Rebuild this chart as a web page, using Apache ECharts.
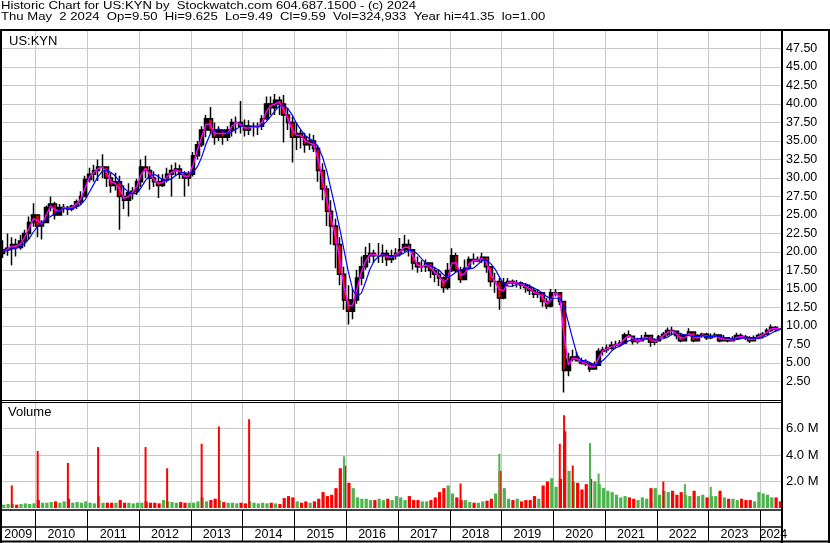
<!DOCTYPE html>
<html>
<head>
<meta charset="utf-8">
<script src="https://cdn.jsdelivr.net/npm/echarts@6/dist/echarts.min.js"></script>
<style>
html, body { margin: 0; padding: 0; background: #fff; }
#chart { width: 830px; height: 543px; }
</style>
</head>
<body>
<div id="chart"></div>
<script>
// monthly bars, May 2009 .. May 2024
var firstYear = 2009, firstMon = 5, monthCount = 181;
var months = [];
for (var i = 0; i < monthCount; i++) {
  var m = firstMon - 1 + i;
  months.push((firstYear + Math.floor(m / 12)) + '-' + String(m % 12 + 1).padStart(2, '0'));
}

var firstOpen = 19.8;
var closes = [
  20.3,20.5,21.0,20.6,21.5,22.5,24.0,25.0,
  23.5,24.0,26.0,26.5,25.0,26.0,26.0,25.8,26.2,26.8,27.5,29.8,
  30.5,31.0,31.5,31.5,30.0,29.0,29.5,27.5,27.0,28.0,28.2,29.5,
  31.5,31.0,30.0,29.5,29.0,29.8,30.5,31.0,31.2,30.5,30.0,30.5,
  33.0,34.5,36.5,38.0,36.5,35.5,36.5,35.5,36.5,37.5,37.5,37.0,
  36.5,37.0,37.0,37.0,38.0,40.0,39.5,40.5,40.0,38.5,37.5,35.5,
  36.0,35.5,34.5,35.0,34.0,31.0,28.5,25.5,23.5,21.0,17.0,13.5,
  12.0,13.5,16.5,18.0,19.5,19.8,19.5,19.5,19.8,19.0,19.5,19.8,
  20.3,21.0,20.3,18.5,18.0,18.0,18.5,17.5,17.0,16.5,15.2,17.5,
  19.5,17.5,16.3,17.8,19.0,18.8,19.0,19.3,18.0,16.0,16.0,13.8,
  15.8,16.0,15.8,15.8,15.5,15.2,14.8,14.3,14.5,13.3,12.7,14.5,
  14.5,13.3,4.0,5.5,5.8,5.3,5.0,4.9,4.2,4.7,6.6,6.8,
  7.0,7.4,7.5,7.7,8.8,8.6,7.9,8.0,8.3,8.7,7.8,8.0,
  8.5,8.9,9.4,9.3,8.7,8.0,8.8,9.2,8.0,8.7,8.9,8.4,
  8.6,8.8,8.0,8.4,8.0,8.2,8.7,8.5,8.4,8.0,8.4,8.7,
  8.9,9.4,9.8,9.6,9.59
];
var highs = [
  21.6,22.5,22.0,21.8,22.3,23.0,24.8,26.6,
  25.0,24.3,26.3,27.5,26.8,26.5,26.5,26.2,26.4,27.1,28.2,30.3,
  31.4,31.8,32.5,33.2,31.6,30.7,30.7,30.3,29.0,29.3,28.8,29.9,
  32.5,33.0,31.6,30.9,30.5,30.5,31.4,31.8,32.1,31.8,30.9,30.9,
  33.5,35.0,37.0,38.5,39.6,37.5,37.0,36.5,37.0,38.0,38.3,40.4,
  37.9,37.8,37.5,37.5,38.5,41.0,41.0,41.35,41.0,41.2,39.5,38.3,
  37.5,36.5,36.1,36.0,35.8,34.5,32.0,29.0,27.0,24.5,22.0,18.0,
  15.5,15.0,17.6,19.4,20.7,21.2,20.3,21.2,21.0,20.3,20.3,20.5,
  21.9,22.3,21.7,20.3,19.4,18.9,19.0,18.5,18.0,17.6,16.7,18.5,
  20.5,19.9,18.0,19.0,19.4,19.8,19.4,19.9,19.4,18.1,17.2,16.5,
  16.5,16.5,16.3,16.2,16.0,15.8,15.6,15.2,15.0,14.6,13.8,15.0,
  15.0,14.5,13.3,6.4,6.8,6.5,5.7,5.5,5.0,5.2,7.0,7.2,
  7.5,7.9,8.0,8.1,9.1,9.4,8.6,8.4,8.8,9.2,8.8,8.3,
  8.8,9.2,9.8,9.9,9.3,9.1,8.9,9.7,9.3,8.9,9.1,9.1,
  9.0,9.1,8.8,8.8,8.5,8.6,9.1,9.0,8.8,8.6,8.7,9.0,
  9.2,9.7,10.2,10.0,9.625
];
var lows = [
  19.2,19.5,18.2,19.4,20.3,20.7,21.7,23.4,
  22.0,21.7,24.0,25.5,24.4,24.9,25.3,25.0,25.5,25.8,26.4,27.5,
  29.4,29.5,29.6,30.0,28.8,28.0,28.3,23.0,25.8,24.8,27.1,27.7,
  28.8,30.0,28.4,28.8,27.3,28.8,29.4,27.5,30.3,29.9,27.5,28.9,
  30.2,32.5,34.2,35.5,36.0,34.5,35.0,34.5,35.0,35.6,36.0,36.0,
  35.6,35.8,35.6,35.8,36.5,37.8,38.5,38.5,38.5,34.8,36.5,32.1,
  33.8,34.0,33.4,33.8,33.5,29.5,27.0,23.5,21.0,17.8,15.5,12.2,
  10.2,10.9,13.0,15.5,17.6,18.5,18.5,18.5,18.5,18.1,18.5,19.0,
  19.4,20.0,19.4,17.6,17.2,17.3,17.3,16.5,15.9,15.4,14.5,14.9,
  17.3,17.2,15.8,16.2,17.6,18.3,18.6,18.5,17.2,15.3,14.5,12.2,
  13.6,15.4,15.3,15.2,15.0,14.5,14.2,13.8,13.8,12.6,12.3,12.5,
  14.0,12.8,1.0,3.2,5.2,5.2,4.8,4.6,3.8,4.2,4.7,6.0,
  6.4,6.8,7.0,7.2,7.6,8.4,7.5,7.6,7.9,8.2,7.2,7.4,
  7.9,8.4,8.6,8.8,8.2,7.8,7.9,8.8,7.8,7.9,8.4,8.1,
  8.2,8.4,7.8,8.0,7.8,7.9,8.2,8.2,8.1,7.7,7.9,8.2,
  8.3,8.8,9.2,9.2,9.49
];
// volume in millions
var volumes = [
  0.25,0.3,0.3,0.25,0.3,0.35,0.3,0.35,
  0.6,0.4,0.4,0.45,0.5,0.4,0.5,0.7,0.4,0.45,0.4,0.5,
  0.4,0.35,0.9,0.4,0.4,0.4,0.4,0.6,0.4,0.4,0.35,0.4,
  0.4,0.5,0.4,0.4,0.35,0.6,0.5,0.45,0.4,0.45,0.4,0.4,
  0.4,0.5,0.8,0.5,0.6,0.7,0.6,0.45,0.4,0.4,0.35,0.4,
  0.35,0.5,0.4,0.35,0.4,0.35,0.4,0.35,0.3,0.75,0.9,0.8,
  0.5,0.4,0.5,0.4,0.5,0.7,1.2,0.9,1.0,1.5,3.0,3.2,
  1.9,1.5,0.8,0.7,0.7,0.6,0.6,0.7,0.6,0.7,0.6,0.9,
  0.8,0.6,0.9,0.6,0.6,0.5,0.5,0.6,0.8,1.2,1.5,1.7,
  1.1,0.8,0.6,0.6,0.45,0.4,0.4,0.5,0.55,0.7,1.1,2.8,
  1.5,0.7,0.6,0.7,0.5,0.6,0.6,0.9,0.7,1.7,2.0,2.25,
  1.6,2.2,5.8,2.8,2.0,1.9,1.4,1.8,2.2,2.0,1.8,1.5,
  1.3,1.2,1.0,0.8,0.9,0.8,0.7,0.6,0.8,0.7,1.5,1.5,
  1.0,1.3,1.2,1.3,1.0,1.2,1.0,0.9,1.3,0.9,1.0,0.8,
  0.9,0.9,1.3,0.8,0.7,0.7,0.6,0.7,0.6,0.6,0.5,1.2,
  1.1,1.0,0.8,0.8,0.5
];
// single heavy days
var spikeMonths = ['2009-07','2010-01','2010-08','2011-03','2012-02','2012-07','2013-03','2013-07','2014-02','2015-12',
                   '2018-03','2018-12','2020-02','2020-03','2020-05','2020-09','2020-11','2022-02','2022-07','2023-01'];
var spikeVols   = [1.7,4.3,3.4,4.6,4.6,3.0,4.85,6.15,6.7,3.9, 1.85,4.1,4.85,7.0,3.2,4.9,2.6,2.0,1.8,1.6];
var spikeUp     = [0,0,0,0,0,0,0,0,0,1, 0,1,0,0,0,1,1,0,1,1];

var yearLabelMonths = ['2009-08','2010-06','2011-06','2012-06','2013-06','2014-06','2015-06','2016-06',
                       '2017-06','2018-06','2019-06','2020-06','2021-06','2022-06','2023-06','2024-03'];
var volTicks = [2, 4, 6];

var header1 = 'Historic Chart for US:KYN by  Stockwatch.com 604.687.1500 - (c) 2024';
var header2 = 'Thu May  2 2024  Op=9.50  Hi=9.625  Lo=9.49  Cl=9.59  Vol=324,933  Year hi=41.35  lo=1.00';

var GREEN = '#4cb44c', RED = '#ff0000', GRID = '#c8c8c8';
var FONT = 'Liberation Sans, Arial, sans-serif';

var opens = closes.map(function (c, i) { return i ? closes[i - 1] : firstOpen; });
var candles = closes.map(function (c, i) { return [opens[i], c, lows[i], highs[i]]; });
var mids = closes.map(function (c, i) { return +((opens[i] + c) / 2).toFixed(3); });
function sma(arr, n) {
  return arr.map(function (v, i) {
    var s = 0, c = 0;
    for (var j = Math.max(0, i - n + 1); j <= i; j++) { s += arr[j]; c++; }
    return +(s / c).toFixed(3);
  });
}
var slowMa = sma(mids, 4);

var volData = volumes.map(function (v, i) {
  return { value: v, itemStyle: { color: closes[i] >= opens[i] ? GREEN : RED } };
});
var spikeData = months.map(function (m) {
  var j = spikeMonths.indexOf(m);
  return j < 0 ? '-' : { value: spikeVols[j], itemStyle: { color: spikeUp[j] ? GREEN : RED } };
});

var janLine = function (index, value) { return value.slice(5) === '01'; };

function monthAxis(gridIndex, lineColor) {
  return {
    type: 'category', gridIndex: gridIndex, data: months, boundaryGap: true,
    axisLine: { show: false }, axisTick: { show: false }, axisLabel: { show: false },
    splitLine: { show: true, interval: janLine, lineStyle: { color: lineColor, width: 1 } }
  };
}
var xVol = monthAxis(1, GRID);
xVol.axisLabel = {
  show: true, margin: 20, color: '#000', fontSize: 12.5, fontFamily: FONT,
  padding: [0, 0, 0, 4.3],
  interval: function (index, value) { return yearLabelMonths.indexOf(value) >= 0; },
  formatter: function (value) { return value.slice(0, 4); }
};

function hline(y, x1, x2, w) {
  return { type: 'line', z: 100, silent: true, shape: { x1: x1, y1: y, x2: x2, y2: y }, style: { stroke: '#000', lineWidth: w } };
}
function vline(x, y1, y2, w) {
  return { type: 'line', z: 100, silent: true, shape: { x1: x, y1: y1, x2: x, y2: y2 }, style: { stroke: '#000', lineWidth: w } };
}
function label(text, x, y, size, sx) {
  return { type: 'text', x: x, y: y, scaleX: sx, scaleY: 1, originX: 0, originY: 0, z: 100, silent: true,
    style: { text: text, fontSize: size, fontFamily: FONT, fill: '#000', verticalAlign: 'top' } };
}

var chart = echarts.init(document.getElementById('chart'), null, { renderer: 'canvas' });
chart.setOption({
  animation: false,
  backgroundColor: '#fff',
  grid: [
    { left: 1, top: 30, width: 781, height: 370, outerBoundsMode: 'none' },
    { left: 1, top: 402, width: 781, height: 106, outerBoundsMode: 'none' },
    { left: 1, top: 510, width: 781, height: 31, outerBoundsMode: 'none' }
  ],
  xAxis: [monthAxis(0, GRID), xVol, monthAxis(2, '#000')],
  yAxis: [
    {
      type: 'value', gridIndex: 0, position: 'right', min: 0, max: 50, interval: 2.5,
      axisLine: { show: false }, axisTick: { show: false },
      axisLabel: { margin: 4, color: '#000', fontSize: 12.5, fontFamily: FONT,
        formatter: function (v) { return (v > 0 && v < 50) ? v.toFixed(2) : ''; } },
      splitLine: { lineStyle: { color: GRID, width: 1 } }
    },
    {
      type: 'value', gridIndex: 1, position: 'right', min: 0, max: 8,
      axisLine: { show: false },
      axisTick: { show: false, customValues: volTicks },
      axisLabel: { margin: 4, color: '#000', fontSize: 13, fontFamily: FONT, customValues: volTicks,
        formatter: function (v) { return v.toFixed(1) + ' M'; } },
      splitLine: { lineStyle: { color: GRID, width: 1 } }
    },
    {
      type: 'value', gridIndex: 2, show: false, min: 0, max: 1, splitLine: { show: false }
    }
  ],
  series: [
    {
      type: 'candlestick', xAxisIndex: 0, yAxisIndex: 0, data: candles, barWidth: 4,
      itemStyle: { color: '#000', color0: '#ff0000', borderColor: '#000', borderColor0: '#000', borderWidth: 1.5 }
    },
    {
      type: 'line', xAxisIndex: 0, yAxisIndex: 0, data: mids, symbol: 'none', z: 5,
      lineStyle: { color: '#ff00ff', width: 1.5 }
    },
    {
      type: 'line', xAxisIndex: 0, yAxisIndex: 0, data: slowMa, symbol: 'none', z: 6,
      lineStyle: { color: '#0000ff', width: 1.2 }
    },
    {
      type: 'bar', xAxisIndex: 1, yAxisIndex: 1, data: volData, barWidth: 3.2, barGap: '-100%'
    },
    {
      type: 'bar', xAxisIndex: 1, yAxisIndex: 1, data: spikeData, barWidth: 2, barGap: '-100%', z: 3
    }
  ],
  graphic: [
    label(header1, 1, 1, 10.5, 1.25),
    label(header2, 1, 11.5, 10.5, 1.25),
    label('US:KYN', 9, 35, 13, 1),
    label('Volume', 8, 406, 13, 1),
    hline(30, 0, 830, 2),
    hline(541.5, 0, 830, 2),
    vline(1, 30, 543, 2),
    vline(829, 30, 543, 2),
    vline(782, 30, 543, 2),
    hline(400.5, 0, 782, 1),
    hline(402.5, 0, 782, 1),
    hline(510, 0, 782, 1.5),
    hline(527, 0, 782, 1.5)
  ]
});
</script>
</body>
</html>
